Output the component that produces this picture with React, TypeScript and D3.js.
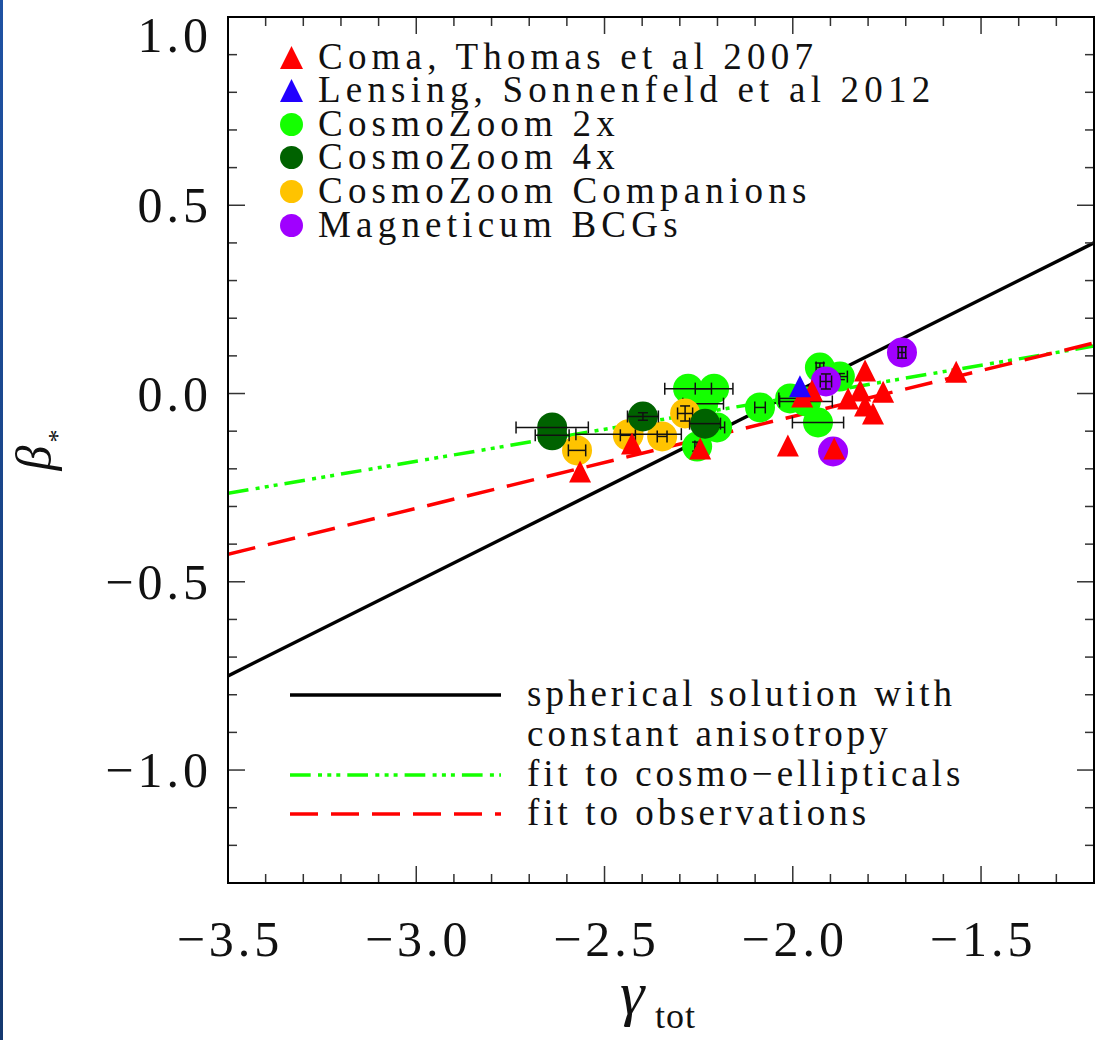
import React from 'react';
import * as d3 from 'd3';

// ---- data ----
const xDomain = [-3.5, -1.2];
const yDomain = [-1.3, 1.0];
const xMajorTicks = [-3.5, -3.0, -2.5, -2.0, -1.5];
const xTickLabels = ['\u22123.5', '\u22123.0', '\u22122.5', '\u22122.0', '\u22121.5'];
const yMajorTicks = [-1.0, -0.5, 0.0, 0.5, 1.0];
const yTickLabels = ['\u22121.0', '\u22120.5', '0.0', '0.5', '1.0'];

// [gamma, beta, xerr, yerr]
const comaPts = [
  [-2.565, -0.207], [-2.427, -0.133], [-2.246, -0.146], [-2.013, -0.138],
  [-1.975, -0.008], [-1.949, 0.008], [-1.853, -0.013], [-1.821, 0.008],
  [-1.808, 0.061], [-1.760, 0.005], [-1.808, -0.032], [-1.787, -0.053],
  [-1.566, 0.058], [-1.890, -0.146],
];
const lensingPts = [[-1.981, 0.019]];
const cz2xPts = [
  [-2.238, -0.027, 0.054, 0], [-2.278, 0.013, 0.062, 0], [-2.209, 0.013, 0.05, 0],
  [-2.201, -0.090, 0.02, 0], [-2.254, -0.141, 0.006, 0.012], [-2.087, -0.037, 0.014, 0],
  [-2.007, -0.013, 0.03, 0], [-1.965, -0.021, 0.07, 0], [-1.928, 0.069, 0.01, 0.012],
  [-1.875, 0.045, 0.02, 0.008], [-1.933, -0.077, 0.068, 0],
];
const cz4xPts = [
  [-2.639, -0.090, 0.096, 0], [-2.639, -0.111, 0.045, 0],
  [-2.398, -0.061, 0.041, 0.01], [-2.233, -0.080, 0.041, 0],
];
const czCompPts = [
  [-2.573, -0.151, 0.023, 0], [-2.436, -0.108, 0.14, 0], [-2.438, -0.111, 0.02, 0],
  [-2.347, -0.114, 0.013, 0], [-2.286, -0.053, 0.02, 0.02],
];
const magPts = [
  [-1.710, 0.109, 0.01, 0.015], [-1.912, 0.032, 0.015, 0.02], [-1.893, -0.154, 0, 0],
];

const fitLines = [
  { name: 'spherical', slope: 0.5, intercept: 1.0 },
  { name: 'cosmo', slope: 0.17, intercept: 0.33 },
  { name: 'obs', slope: 0.244, intercept: 0.427 },
];

const topLegend = [
  'Coma, Thomas et al 2007',
  'Lensing, Sonnenfeld et al 2012',
  'CosmoZoom 2x',
  'CosmoZoom 4x',
  'CosmoZoom Companions',
  'Magneticum BCGs',
];
const bottomLegend = [
  'spherical solution with',
  'constant anisotropy',
  'fit to cosmo\u2212ellipticals',
  'fit to observations',
];

// ---- style ----
const RED = '#ff0000';
const BLUE = '#2200ff';
const GREEN = '#14ff00';
const DKGREEN = '#006200';
const YELLOW = '#ffc300';
const PURPLE = '#a000ff';
const FONT = '"Liberation Serif", "DejaVu Serif", serif';

const L = 228, R = 1094, T = 17, B = 883;

export default function App() {
  const x = d3.scaleLinear().domain(xDomain).range([L, R]);
  const y = d3.scaleLinear().domain(yDomain).range([B, T]);

  const xMinor = d3.range(-3.5, -1.15, 0.1).map((v) => +v.toFixed(2));
  const yMinor = d3.range(-1.3, 1.05, 0.1).map((v) => +v.toFixed(2));
  const isMajor = (v: number) => Math.abs(v * 2 - Math.round(v * 2)) < 1e-6;

  const lineGen = d3.line<[number, number]>().x((d) => x(d[0])).y((d) => y(d[1]));
  const fitPath = (f: { slope: number; intercept: number }) =>
    lineGen([xDomain[0], xDomain[1]].map((g) => [g, f.slope * g + f.intercept]) as [number, number][]) || '';

  const tri = (cx: number, cy: number, w: number, h: number) =>
    `M${cx - w / 2},${cy + h / 2}L${cx + w / 2},${cy + h / 2}L${cx},${cy - h / 2}Z`;

  const errBars = (pts: number[][], key: string) =>
    pts.map((p, i) => {
      const cx = x(p[0]), cy = y(p[1]);
      const xe = p[2] || 0, ye = p[3] || 0;
      const els: any[] = [];
      if (xe > 0) {
        const x0 = x(p[0] - xe), x1 = x(p[0] + xe);
        els.push(<line key="h" x1={x0} y1={cy} x2={x1} y2={cy} />);
        els.push(<line key="c0" x1={x0} y1={cy - 6} x2={x0} y2={cy + 6} />);
        els.push(<line key="c1" x1={x1} y1={cy - 6} x2={x1} y2={cy + 6} />);
      }
      if (ye > 0) {
        const y0 = y(p[1] - ye), y1 = y(p[1] + ye);
        els.push(<line key="v" x1={cx} y1={y0} x2={cx} y2={y1} />);
        els.push(<line key="d0" x1={cx - 5} y1={y0} x2={cx + 5} y2={y0} />);
        els.push(<line key="d1" x1={cx - 5} y1={y1} x2={cx + 5} y2={y1} />);
      }
      return <g key={key + i}>{els}</g>;
    });

  const circles = (pts: number[][], color: string, key: string) => (
    <g key={key}>
      {pts.map((p, i) => (
        <circle key={i} cx={x(p[0])} cy={y(p[1])} r={15} fill={color} />
      ))}
      <g stroke="#111" strokeWidth={1.5}>{errBars(pts, key)}</g>
    </g>
  );

  const legendBaselines = [69, 102, 136, 169, 203, 237];
  const legendMarkers = [
    { type: 'tri', color: RED },
    { type: 'tri', color: BLUE },
    { type: 'circ', color: GREEN },
    { type: 'circ', color: DKGREEN },
    { type: 'circ', color: YELLOW },
    { type: 'circ', color: PURPLE },
  ];

  const bottomBaselines = [706, 746, 786, 825];

  return (
    <svg
      width={1103}
      height={1040}
      style={{ position: 'absolute', left: 0, top: 0, background: '#fff' }}
      fontFamily={FONT}
    >
      <defs>
        <clipPath id="frame">
          <rect x={L} y={T} width={R - L} height={B - T} />
        </clipPath>
        <linearGradient id="stripe" x1="0" y1="0" x2="0" y2="1">
          <stop offset="0" stopColor="#1f52a3" />
          <stop offset="1" stopColor="#14386f" />
        </linearGradient>
      </defs>
      <rect x={0} y={0} width={1103} height={1040} fill="#fff" />
      <rect x={0} y={0} width={3} height={1040} fill="url(#stripe)" />

      {/* fit lines */}
      <g clipPath="url(#frame)" fill="none">
        <path d={fitPath(fitLines[0])} stroke="#000" strokeWidth={3.5} />
        <path d={fitPath(fitLines[1])} stroke={GREEN} strokeWidth={3.5}
          strokeDasharray="20.7 7.3 4 5.3 4 5 4 7" />
        <path d={fitPath(fitLines[2])} stroke={RED} strokeWidth={3.5} strokeDasharray="28 13" />
      </g>

      {/* points */}
      <g clipPath="url(#frame)">
        {circles(cz2xPts, GREEN, 'g2')}
        {circles(czCompPts, YELLOW, 'yc')}
        {circles(cz4xPts, DKGREEN, 'g4')}
        {circles(magPts, PURPLE, 'mg')}
        <g>
          {comaPts.map((p, i) => (
            <path key={i} d={tri(x(p[0]), y(p[1]), 22, 22)} fill={RED} />
          ))}
        </g>
        <g>
          {lensingPts.map((p, i) => (
            <path key={i} d={tri(x(p[0]), y(p[1]), 22, 22)} fill={BLUE} />
          ))}
        </g>
      </g>

      {/* frame + ticks */}
      <g stroke="#333" strokeWidth={1.5}>
        {xMinor.map((v, i) => {
          const len = isMajor(v) ? 17 : 9;
          const px = x(v);
          return (
            <g key={'xt' + i}>
              <line x1={px} y1={B} x2={px} y2={B - len} />
              <line x1={px} y1={T} x2={px} y2={T + len} />
            </g>
          );
        })}
        {yMinor.map((v, i) => {
          const len = isMajor(v) ? 17 : 9;
          const py = y(v);
          return (
            <g key={'yt' + i}>
              <line x1={L} y1={py} x2={L + len} y2={py} />
              <line x1={R} y1={py} x2={R - len} y2={py} />
            </g>
          );
        })}
      </g>
      <rect x={L} y={T} width={R - L} height={B - T} fill="none" stroke="#000" strokeWidth={2} />

      {/* tick labels */}
      <g fontSize={50} fill="#111" letterSpacing={4}>
        {xMajorTicks.map((v, i) => (
          <text key={'xl' + i} x={x(v) + 2} y={956} textAnchor="middle">
            {xTickLabels[i]}
          </text>
        ))}
        {yMajorTicks.map((v, i) => (
          <text key={'yl' + i} x={212} y={Math.max(y(v), 35) + 17} textAnchor="end">
            {yTickLabels[i]}
          </text>
        ))}
      </g>

      {/* axis titles */}
      <text x={620} y={1014} fontSize={62} fontStyle="italic" fill="#111">{'\u03b3'}</text>
      <text x={655} y={1028} fontSize={36} fill="#111" letterSpacing={1}>tot</text>
      <text transform="translate(51,458) rotate(-90)" fontSize={50} fontStyle="italic"
        textAnchor="middle" fill="#111">{'\u03b2'}</text>
      <text transform="translate(66,436) rotate(-90)" fontSize={26}
        textAnchor="middle" fill="#111">*</text>

      {/* top legend */}
      <g fontSize={37} fill="#111" letterSpacing={5.2}>
        {topLegend.map((t, i) => {
          const m = legendMarkers[i];
          const cy = legendBaselines[i] - 11.5;
          return (
            <g key={'tl' + i}>
              {m.type === 'tri' ? (
                <path d={tri(291.5, cy, 23, 23)} fill={m.color} />
              ) : (
                <circle cx={291.5} cy={cy} r={11.5} fill={m.color} />
              )}
              <text x={318} y={legendBaselines[i]}>{t}</text>
            </g>
          );
        })}
      </g>

      {/* bottom legend */}
      <g fill="none" strokeWidth={3.5}>
        <line x1={290} y1={695} x2={501} y2={695} stroke="#000" />
        <line x1={290} y1={775} x2={501} y2={775} stroke={GREEN}
          strokeDasharray="20.7 7.3 4 5.3 4 5 4 7" />
        <line x1={290} y1={814} x2={501} y2={814} stroke={RED} strokeDasharray="28 13" />
      </g>
      <g fontSize={37} fill="#111" letterSpacing={4}>
        {bottomLegend.map((t, i) => (
          <text key={'bl' + i} x={527} y={bottomBaselines[i]}>{t}</text>
        ))}
      </g>
    </svg>
  );
}
